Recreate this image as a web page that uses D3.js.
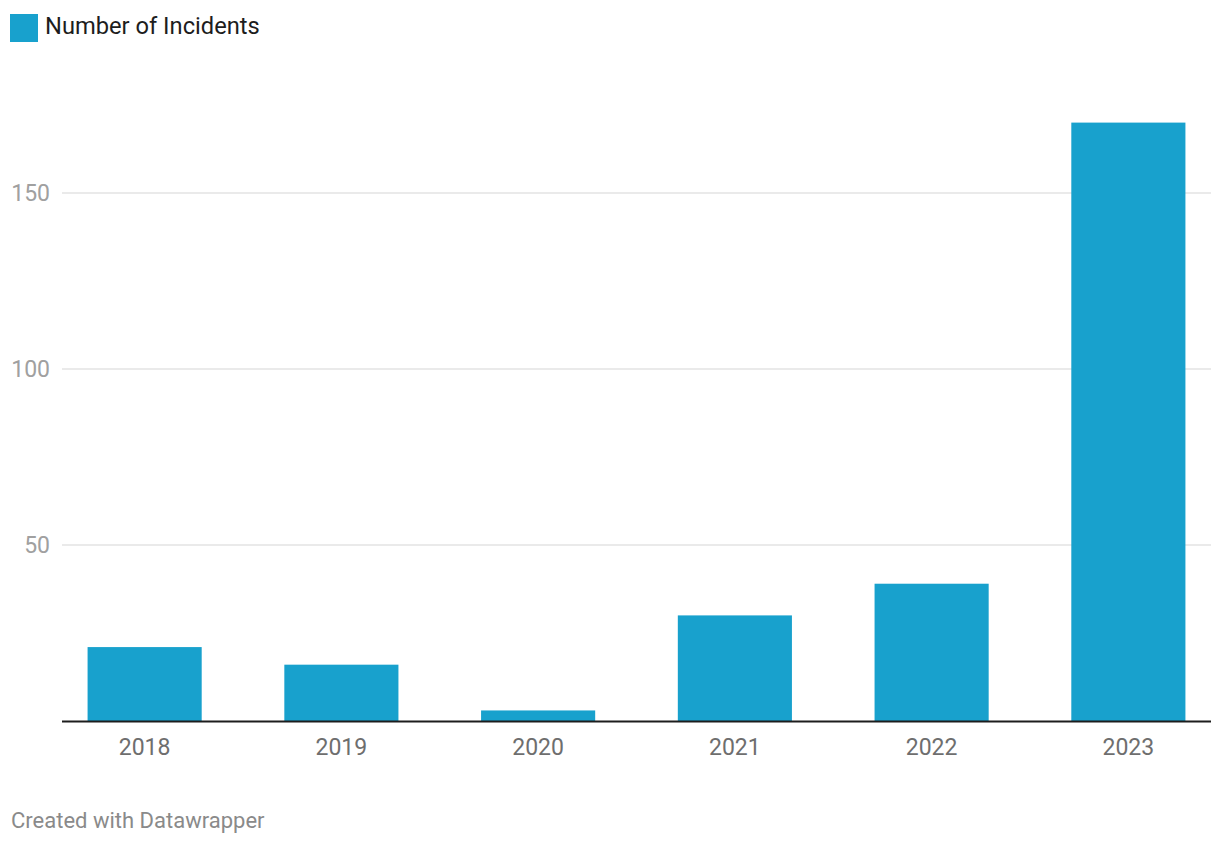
<!DOCTYPE html>
<html><head><meta charset="utf-8">
<script src="https://cdn.jsdelivr.net/npm/d3@7"></script>
<style>body{margin:0;background:#fff;}svg{display:block;font-family:Roboto,sans-serif;}</style>
</head><body><svg id="c" width="1220" height="846"></svg>
<script>
const categories = ["2018","2019","2020","2021","2022","2023"];
const incidents = [21, 16, 3, 30, 39, 170];
const yTicks = [50, 100, 150];
const seriesName = "Number of Incidents";
const footer = "Created with Datawrapper";

const svg = d3.select("#c");
const color = "#18a1cd";
const x = d3.scaleBand().domain(categories).range([62, 1211]).paddingInner(0.42).paddingOuter(0.13);
const y = d3.scaleLinear().domain([0, 150]).range([721, 193]);

// gridlines
svg.append("g").selectAll("line").data(yTicks).join("line")
  .attr("x1", 62).attr("x2", 1211)
  .attr("y1", d => y(d)).attr("y2", d => y(d))
  .attr("stroke", "#e3e3e3").attr("stroke-width", 1.5);
svg.append("g").selectAll("text").data(yTicks).join("text")
  .attr("x", 50).attr("y", d => y(d)).attr("dy", "0.35em")
  .attr("text-anchor", "end").attr("fill", "#a0a0a0").attr("font-size", 23)
  .text(d => d);

// bars
svg.append("g").selectAll("rect").data(categories).join("rect")
  .attr("x", d => x(d)).attr("width", x.bandwidth())
  .attr("y", (d,i) => y(incidents[i])).attr("height", (d,i) => y(0) - y(incidents[i]))
  .attr("fill", color);

// baseline
svg.append("line").attr("x1", 62).attr("x2", 1211).attr("y1", y(0) + 0.5).attr("y2", y(0) + 0.5)
  .attr("stroke", "#1d1d1d").attr("stroke-width", 2);

// x labels
svg.append("g").selectAll("text").data(categories).join("text")
  .attr("x", d => x(d) + x.bandwidth()/2).attr("y", 755)
  .attr("text-anchor", "middle").attr("fill", "#6e6e6e").attr("font-size", 23)
  .text(d => d);

// legend
svg.append("rect").attr("x", 10).attr("y", 14).attr("width", 28).attr("height", 28).attr("fill", color);
svg.append("text").attr("x", 45).attr("y", 33.5).attr("fill", "#1d1d1d").attr("font-size", 23.7).text(seriesName);

// footer
svg.append("text").attr("x", 11).attr("y", 827.5).attr("fill", "#8a8a8a").attr("font-size", 22).text(footer);
</script></body></html>
